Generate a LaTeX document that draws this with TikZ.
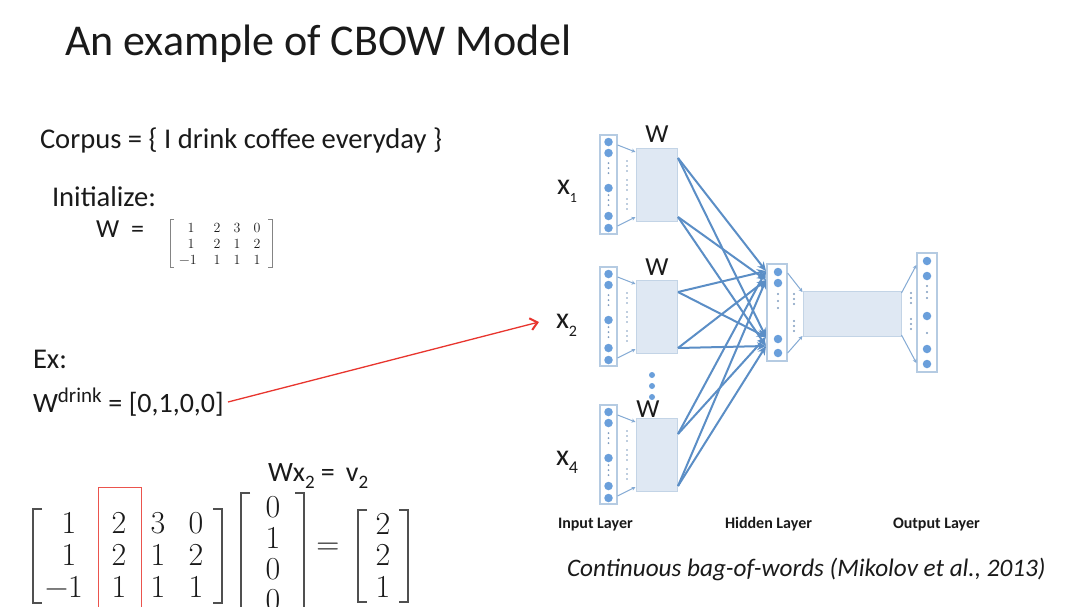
\documentclass[tikz,border=0pt]{standalone}
\usepackage{fontspec}
\setmainfont{Carlito}
\newfontfamily\lmr{Latin Modern Roman}
\usetikzlibrary{arrows.meta}
\definecolor{ink}{HTML}{1A1A1A}
\definecolor{netblue}{HTML}{5B8EC6}
\definecolor{boxfill}{HTML}{DFE8F3}
\definecolor{boxline}{HTML}{C3D4E6}
\definecolor{rectline}{HTML}{B5CBE2}
\definecolor{dotblue}{HTML}{6A9FDB}
\definecolor{dotgray}{HTML}{7F9CBF}
\definecolor{redarrow}{HTML}{E8352E}
\definecolor{brk}{HTML}{505050}
\newcommand{\fs}[1]{\fontsize{#1}{#1}\selectfont}
\newcommand{\sbsc}[1]{\raisebox{-0.28em}{\fontsize{19}{19}\selectfont #1}}
\tikzset{
  txt/.style={inner sep=0, outer sep=0, text=ink, anchor=base west},
  mnum/.style={inner sep=0, outer sep=0, text=ink, font=\lmr\fs{32}},
  snum/.style={inner sep=0, outer sep=0, text=ink, font=\lmr\fs{14}},
  inrect/.style={draw=rectline, line width=1.2, fill=white, inner sep=0, minimum width=17, minimum height=99},
  wbox/.style={draw=boxline, line width=1, fill=boxfill, inner sep=0},
  neuron/.style={circle, fill=dotblue, draw=none, inner sep=0, minimum size=8.5},
  conn/.style={draw=netblue, line width=2, -{Stealth[length=9,width=8]}},
  trap/.style={draw=netblue!75, line width=1, -{Stealth[length=4,width=4]}},
  redarr/.style={draw=redarrow, line width=1.3, -{Straight Barb[length=7,width=12,line width=2]}},
  brkline/.style={draw=brk, line width=1.6},
  sbrk/.style={draw=brk!70, line width=0.9},
  redbox/.style={draw=redarrow!85, line width=1.2, fill=none, inner sep=0}
}
\begin{document}
\begin{tikzpicture}[x=1pt,y=-1pt]
\useasboundingbox (0,0) rectangle (1080,606);
\clip (0,0) rectangle (1080,606);
\fill[white] (0,0) rectangle (1080,606);

% ---------- texts on the left ----------
\node[txt, font=\fs{44}] (title) at (65,55) {An example of CBOW Model};
\node[txt, font=\fs{28.6}] (corpus) at (40,148) {Corpus = \{ I drink coffee everyday \}};
\node[txt, font=\fs{28.6}] (init) at (52,206) {Initialize:};
\node[txt, font=\fs{26}] (weq) at (96,237) {W\hspace{12pt}=};
\node[txt, font=\fs{28.6}] (ex) at (33,368) {Ex:};
\node[txt, font=\fs{28}] (wdr) at (33,412) {W\textsuperscript{\fs{21}drink} = [0,1,0,0]};
\node[txt, font=\fs{28}] (wx) at (268,481) {Wx\sbsc{2} = \,v\sbsc{2}};

% small matrix W
\draw[sbrk] (174,219) -- (170,219) -- (170,267) -- (174,267);
\draw[sbrk] (268,219) -- (272,219) -- (272,267) -- (268,267);
\node[snum] (m11) at (191,228) {1};  \node[snum] (m12) at (217,228) {2};
\node[snum] (m13) at (237,228) {3};  \node[snum] (m14) at (257,228) {0};
\node[snum] (m21) at (191,244) {1};  \node[snum] (m22) at (217,244) {2};
\node[snum] (m23) at (237,244) {1};  \node[snum] (m24) at (257,244) {2};
\node[snum] (m31) at (188,260) {−1}; \node[snum] (m32) at (217,260) {1};
\node[snum] (m33) at (237,260) {1};  \node[snum] (m34) at (257,260) {1};

% ---------- bottom equation ----------
\draw[brkline] (42,509) -- (33,509) -- (33,603) -- (42,603);
\draw[brkline] (213,509) -- (222,509) -- (222,603) -- (213,603);
\node[mnum] (b11) at (69,523) {1};  \node[mnum] (b12) at (119,523) {2};
\node[mnum] (b13) at (158,523) {3}; \node[mnum] (b14) at (196,523) {0};
\node[mnum] (b21) at (69,555) {1};  \node[mnum] (b22) at (119,555) {2};
\node[mnum] (b23) at (158,555) {1}; \node[mnum] (b24) at (196,555) {2};
\node[mnum] (b31) at (64,587) {−1}; \node[mnum] (b32) at (119,587) {1};
\node[mnum] (b33) at (158,587) {1}; \node[mnum] (b34) at (196,587) {1};
\node[redbox, minimum width=43, minimum height=130, anchor=north west] (col2) at (98,487) {};
% vector
\draw[brkline] (250,493) -- (241,493) -- (241,620);
\draw[brkline] (295,493) -- (304,493) -- (304,620);
\node[mnum] (v1) at (273,507) {0};
\node[mnum] (v2) at (273,538) {1};
\node[mnum] (v3) at (273,569) {0};
\node[mnum] (v4) at (273,600) {0};
\node[mnum] (eq) at (328,549) {=};
% result
\draw[brkline] (367,510) -- (358,510) -- (358,602) -- (367,602);
\draw[brkline] (399,510) -- (408,510) -- (408,602) -- (399,602);
\node[mnum] (r1) at (383,524) {2};
\node[mnum] (r2) at (383,555) {2};
\node[mnum] (r3) at (383,587) {1};

% ---------- network ----------
\foreach \i/\dy in {1/0,2/132,3/270}{
  \node[inrect] (in\i) at (608.5,184.5+\dy) {};
  \foreach \k/\yy in {a/142,b/153,c/188,d/216,e/228}{
    \node[neuron] (in\i\k) at (608.5,\yy+\dy) {};
  }
  \foreach \yy in {163,168,173,195,200,205}{
    \fill[dotgray] (608.5,\yy+\dy) circle (1);
  }
  \foreach \yy in {161,166,171,180,185,190,199,204,209}{
    \fill[dotgray] (627,\yy+\dy) circle (0.9);
  }
  \node[wbox, minimum width=41, minimum height=73] (w\i) at (656.5,184.5+\dy) {};
  \draw[trap] (in\i.east |- 0,145+\dy) -- (w\i.west |- 0,152+\dy);
  \draw[trap] (in\i.east |- 0,226+\dy) -- (w\i.west |- 0,217+\dy);
}
\node[txt, anchor=center, font=\fs{26}] (wl1) at (657,134) {W};
\node[txt, anchor=center, font=\fs{26}] (wl2) at (657,267) {W};
\node[txt, anchor=center, font=\fs{26}] (wl3) at (648,409) {W};
\node[neuron, minimum size=6] (dd1) at (652,375) {};
\node[neuron, minimum size=6] (dd2) at (652,386) {};
\node[neuron, minimum size=6] (dd3) at (652,397) {};

\node[txt, font=\fs{30}] (x1) at (557,194) {x\sbsc{\fs{14}1}};
\node[txt, font=\fs{30}] (x2) at (556,328) {x\sbsc{\fs{16}2}};
\node[txt, font=\fs{30}] (x4) at (556,465) {x\sbsc{\fs{18}4}};

% hidden layer
\node[inrect, minimum width=20, minimum height=97] (hid) at (777,312.5) {};
\foreach \k/\yy in {a/272,b/283,c/339,d/353}{
  \node[neuron] (h\k) at (778,\yy) {};
}
\foreach \yy in {294,301,308}{ \fill[dotgray] (778,\yy) circle (1.2); }
\node[wbox, minimum width=98, minimum height=45] (hbox) at (852,313.5) {};
\foreach \yy in {294,299,304,321,326,331}{ \fill[dotgray] (794,\yy) circle (1.1); }
\draw[trap] (hid.east |- 0,273) -- (hbox.west |- 0,292);
\draw[trap] (hid.east |- 0,353) -- (hbox.west |- 0,336);

% output layer
\node[inrect, minimum width=20, minimum height=119] (out) at (927,312.5) {};
\foreach \k/\yy in {a/261,b/276,c/316,d/349,e/364}{
  \node[neuron] (o\k) at (927,\yy) {};
}
\foreach \yy in {286,292,298,333}{ \fill[dotgray] (927,\yy) circle (1.2); }
\foreach \yy in {293,298,303,319,324,329}{ \fill[dotgray] (911,\yy) circle (1.1); }
\draw[trap] (hbox.east |- 0,293) -- (out.west |- 0,265);
\draw[trap] (hbox.east |- 0,335) -- (out.west |- 0,363);

% connections W -> hidden
\coordinate (s1a) at (678,158); \coordinate (s1b) at (678,217);
\coordinate (s2a) at (678,292); \coordinate (s2b) at (678,348);
\coordinate (s3a) at (678,434); \coordinate (s3b) at (678,486);
\coordinate (tu1) at (766,271); \coordinate (tu2) at (766,280);
\coordinate (tl1) at (766,337); \coordinate (tl2) at (766,346);
\foreach \s in {1,2,3}{
  \draw[conn] (s\s a) -- (tu1);
  \draw[conn] (s\s a) -- (tl1);
  \draw[conn] (s\s b) -- (tu2);
  \draw[conn] (s\s b) -- (tl2);
}

% layer labels
\node[txt, font=\fs{16}\bfseries] (lin) at (558,528) {Input Layer};
\node[txt, font=\fs{16}\bfseries] (lhid) at (725,528) {Hidden Layer};
\node[txt, font=\fs{16}\bfseries] (lout) at (893,528) {Output Layer};
\node[txt, font=\fs{25.2}\itshape] (cap) at (567,576) {Continuous bag-of-words (Mikolov et al., 2013)};

% red arrow
\coordinate (ra) at (228,402);
\coordinate (rb) at (539,322);
\draw[redarr] (ra) -- (rb);
\end{tikzpicture}
\end{document}
